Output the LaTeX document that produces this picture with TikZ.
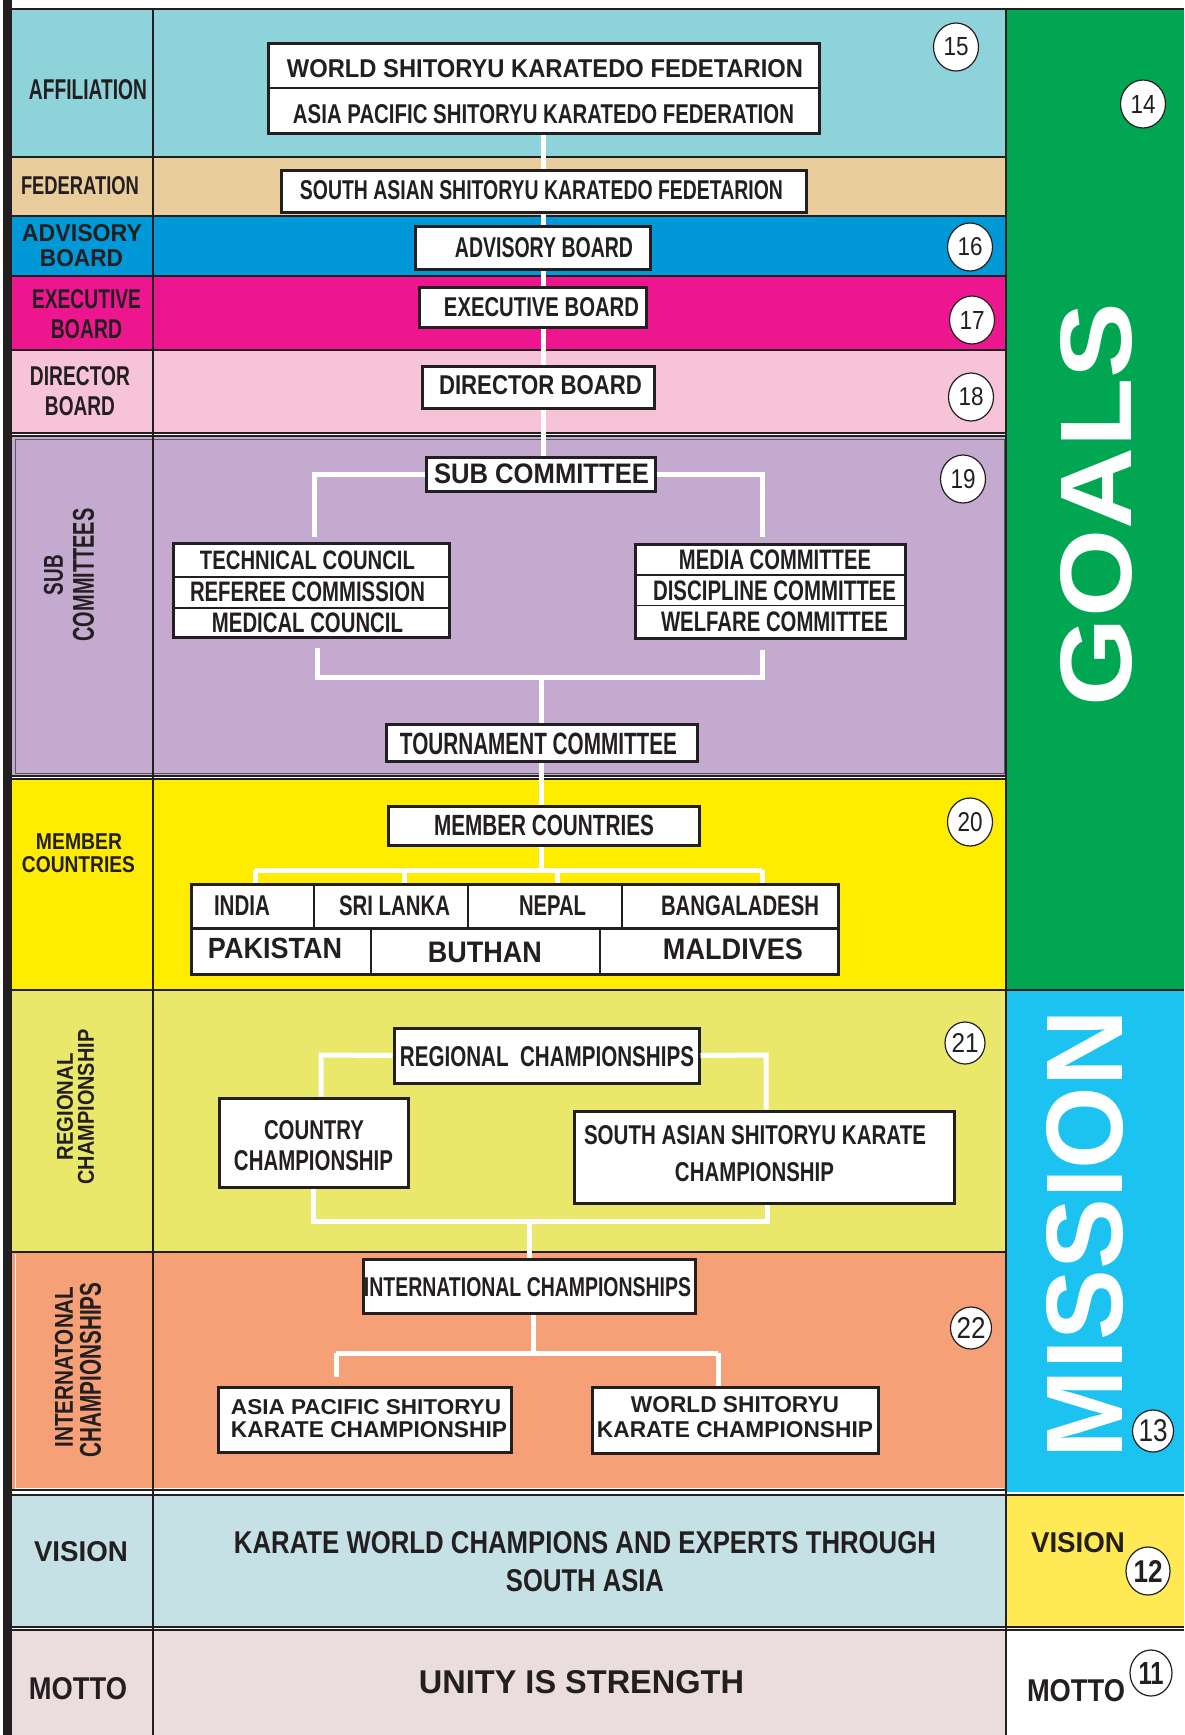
\documentclass[tikz,border=0pt]{standalone}
\usepackage{fontspec}
\setmainfont{Liberation Sans}
\newfontfamily\cnd[FakeStretch=0.8]{Liberation Sans}
\usepackage{graphicx}
\usetikzlibrary{shapes.geometric,calc}
\definecolor{dark}{HTML}{231F20}
\definecolor{caffil}{HTML}{8ED2DA}
\definecolor{cfed}{HTML}{E9CD9D}
\definecolor{cadv}{HTML}{0098D7}
\definecolor{cexe}{HTML}{ED168F}
\definecolor{cdir}{HTML}{F7C3D8}
\definecolor{csub}{HTML}{C5AACF}
\definecolor{cmem}{HTML}{FFED00}
\definecolor{creg}{HTML}{E9E86B}
\definecolor{cintl}{HTML}{F5A077}
\definecolor{cgreen}{HTML}{00A651}
\definecolor{cmission}{HTML}{1CC3F1}
\definecolor{cvisr}{HTML}{FFE955}
\definecolor{cvis}{HTML}{C5E1E6}
\definecolor{cmotto}{HTML}{EBDCDD}
\newcommand{\txc}[3]{\resizebox{#1pt}{#2pt}{\cnd\bfseries #3}}
\newcommand{\txw}[3]{\resizebox{#1pt}{#2pt}{\bfseries #3}}
\newcommand{\txr}[3]{\resizebox{#1pt}{#2pt}{#3}}
\begin{document}
\begin{tikzpicture}[x=1pt,y=-1pt,
  lab/.style={inner sep=0pt, text=dark},
  wlab/.style={inner sep=0pt, text=white},
  box/.style={draw=dark, line width=3, fill=white, inner sep=0pt},
  conn/.style={draw=white, line width=5},
  rowline/.style={draw=dark, line width=1.5},
  thin/.style={draw=dark, line width=1.5},
  numc/.style={ellipse, draw=dark, line width=1.2, fill=white, inner sep=0pt, minimum width=45, minimum height=48, text=dark}]
\useasboundingbox (0,0) rectangle (1184,1735);
\fill[white] (0,0) rectangle (1184,1735);
% row fills
\fill[caffil] (12,10) rectangle (1006,157);
\fill[cfed] (12,157) rectangle (1006,216);
\fill[cadv] (12,216) rectangle (1006,276);
\fill[cexe] (12,276) rectangle (1006,350);
\fill[cdir] (12,350) rectangle (1006,433);
\fill[csub] (12,436) rectangle (1006,776);
\fill[cmem] (12,779) rectangle (1006,990);
\fill[creg] (12,990) rectangle (1006,1252);
\fill[cintl] (12,1252) rectangle (1006,1490);
\fill[cvis] (12,1495) rectangle (1006,1627);
\fill[cmotto] (12,1630) rectangle (1006,1735);
% right column
\fill[cgreen] (1006,10) rectangle (1184,990);
\fill[cmission] (1006,990) rectangle (1184,1492);
\fill[cvisr] (1006,1495) rectangle (1184,1627);
% lines
\draw[dark, line width=2] (3,9) -- (1184,9);
\foreach \yy in {157,216,276,350,433,436,776,779,990,1252,1490,1495,1627,1630}
  \draw[rowline] (12,\yy) -- (1006,\yy);
\draw[rowline] (1006,990) -- (1184,990);
\draw[rowline] (1006,1495) -- (1184,1495);
\draw[rowline] (1006,1627) -- (1184,1627);
\draw[rowline] (1006,1630) -- (1184,1630);
\draw[gray!60!dark, line width=0.8] (15,439) rectangle (1004,773);
\draw[white, line width=1] (15,1254) -- (15,1488) -- (1004,1488);
\draw[rowline] (153,9) -- (153,1735);
\draw[dark, line width=2] (1006,9) -- (1006,1735);
\fill[dark] (2.5,0) rectangle (12,1735);

% boxes
\node[box, minimum width=551, minimum height=90] (wskf) at (543.5,88) {};
\node[box, minimum width=522, minimum height=39] (saskf) at (544,191.5) {};
\node[box, minimum width=232, minimum height=40] (advb) at (533,248) {};
\node[box, minimum width=224, minimum height=37] (exeb) at (533,307.5) {};
\node[box, minimum width=229, minimum height=39] (dirb) at (538.5,387.5) {};
\node[box, minimum width=229, minimum height=34] (subc) at (540.5,474) {};
\node[box, minimum width=276, minimum height=94] (leftblk) at (311,590) {};
\node[box, minimum width=270, minimum height=94] (rightblk) at (770,591.5) {};
\node[box, minimum width=311, minimum height=37] (tourn) at (541.5,742.5) {};
\node[box, minimum width=311, minimum height=39.5] (memb) at (543.5,825.75) {};
\node[box, minimum width=647, minimum height=90.5] (table) at (514.5,929.25) {};
\node[box, minimum width=305, minimum height=55] (regc) at (546.5,1055.5) {};
\node[box, minimum width=189, minimum height=89] (ctry) at (313.5,1142.5) {};
\node[box, minimum width=380, minimum height=92] (sasc) at (764,1157) {};
\node[box, minimum width=332, minimum height=54] (intc) at (529,1286) {};
\node[box, minimum width=293, minimum height=65] (apc) at (364.5,1419.5) {};
\node[box, minimum width=286, minimum height=66] (wsc) at (735,1420) {};

% connector end points
\coordinate (sl) at (314,537);
\coordinate (sr) at (762,537);
\coordinate (bl) at (317,648);
\coordinate (br) at (762,650);
\coordinate (bm) at (541,677);
\coordinate (mh) at (541,870);
\coordinate (m1) at (255,870);
\coordinate (m2) at (404,870);
\coordinate (m3) at (557,870);
\coordinate (m4) at (762,870);
\coordinate (rl) at (321,1055);
\coordinate (rr) at (766,1055);
\coordinate (rbl) at (313,1221);
\coordinate (rbr) at (767,1221);
\coordinate (rbm) at (529,1221);
\coordinate (ih) at (533,1353);
\coordinate (il) at (336,1353);
\coordinate (ir) at (718,1353);
\coordinate (ild) at (336,1377);

\draw[conn] (wskf.south) -- (wskf.south |- subc.north);
\draw[conn] (subc.west) -| (sl);
\draw[conn] (subc.east) -| (sr);
\draw[conn] (bl) |- (bm) -| (br);
\draw[conn] (bm) -- (bm |- tourn.north);
\draw[conn] (tourn.south) -- (tourn.south |- memb.north);
\draw[conn] (memb.south -| mh) -- (mh);
\draw[conn] (m1) -- (m4);
\draw[conn] (m1) -- (m1 |- table.north);
\draw[conn] (m2) -- (m2 |- table.north);
\draw[conn] (m3) -- (m3 |- table.north);
\draw[conn] (m4) -- (m4 |- table.north);
\draw[conn] (regc.west) -- (rl) -- (rl |- ctry.north);
\draw[conn] (regc.east) -- (rr) -- (rr |- sasc.north);
\draw[conn] (rbl |- ctry.south) -- (rbl) -- (rbr) -- (rbr |- sasc.south);
\draw[conn] (rbm) -- (rbm |- intc.north);
\draw[conn] (intc.south -| ih) -- (ih);
\draw[conn] (il) -- (ir);
\draw[conn] (il) -- (ild);
\draw[conn] (ir) -- (ir |- wsc.north);

% redraw boxes over the main vertical connector
\foreach \n in {saskf,advb,exeb,dirb}{
  \draw[draw=dark, line width=3, fill=white] (\n.north west) rectangle (\n.south east);
}

% box inner dividers
\draw[thin] (wskf.west |- 0,88) -- (wskf.east |- 0,88);
\draw[thin] (leftblk.west |- 0,577) -- (leftblk.east |- 0,577);
\draw[thin] (leftblk.west |- 0,608) -- (leftblk.east |- 0,608);
\draw[thin] (rightblk.west |- 0,575) -- (rightblk.east |- 0,575);
\draw[thin] (rightblk.west |- 0,605.5) -- (rightblk.east |- 0,605.5);
\draw[dark, line width=2.5] (table.west |- 0,928.6) -- (table.east |- 0,928.6);
\draw[dark, line width=2.5] (314,884) -- (314,928.6);
\draw[dark, line width=2.5] (468,884) -- (468,928.6);
\draw[dark, line width=2.5] (622,884) -- (622,928.6);
\draw[dark, line width=2.5] (371,928.6) -- (371,974.5);
\draw[dark, line width=2.5] (600,928.6) -- (600,974.5);

% left labels
\node[lab] (lAff) at (88,90) {\txc{118}{20}{AFFILIATION}};
\node[lab] (lFed) at (80,186) {\txc{118}{18}{FEDERATION}};
\node[lab] (lAdv1) at (82,233) {\txw{120}{17}{ADVISORY}};
\node[lab] (lAdv2) at (81.5,258) {\txw{83}{17}{BOARD}};
\node[lab] (lExe1) at (86.5,299) {\txc{109}{19}{EXECUTIVE}};
\node[lab] (lExe2) at (86.5,329) {\txc{71}{19}{BOARD}};
\node[lab] (lDir1) at (80,376) {\txc{100}{19}{DIRECTOR}};
\node[lab] (lDir2) at (80,406) {\txc{70}{19}{BOARD}};
\node[lab, rotate=90] (lSub1) at (53.5,575) {\txw{40}{19}{SUB}};
\node[lab, rotate=90] (lSub2) at (83.5,575) {\txw{133}{21}{COMMITTEES}};
\node[lab] (lMem1) at (79,842) {\txw{86}{15.8}{MEMBER}};
\node[lab] (lMem2) at (78.5,865) {\txw{113}{16}{COUNTRIES}};
\node[lab, rotate=90] (lReg1) at (65,1107) {\txw{107}{16}{REGIONAL}};
\node[lab, rotate=90] (lReg2) at (86,1107) {\txw{155}{16}{CHAMPIONSHIP}};
\node[lab, rotate=90] (lInt1) at (64,1367) {\txw{161}{18}{INTERNATONAL}};
\node[lab, rotate=90] (lInt2) at (90.5,1370) {\txw{175}{21}{CHAMPIONSHIPS}};
\node[lab] (lVis) at (81,1552) {\txc{94}{20}{VISION}};
\node[lab] (lMot) at (78,1689) {\txc{98}{22}{MOTTO}};

% middle texts
\node[lab] (tWskf) at (545,69) {\txc{516}{18}{WORLD SHITORYU KARATEDO FEDETARION}};
\node[lab] (tApskf) at (543.5,114) {\txc{501}{19}{ASIA PACIFIC SHITORYU KARATEDO FEDERATION}};
\node[lab] (tSaskf) at (541.5,190) {\txc{483}{19}{SOUTH ASIAN SHITORYU KARATEDO FEDETARION}};
\node[lab] (tAdv) at (544,248) {\txc{178}{20}{ADVISORY BOARD}};
\node[lab] (tExe) at (541.5,307) {\txc{195}{19}{EXECUTIVE BOARD}};
\node[lab] (tDir) at (540.5,385) {\txc{203}{19}{DIRECTOR BOARD}};
\node[lab] (tSub) at (541.5,474) {\txc{215}{19.7}{SUB COMMITTEE}};
\node[lab] (tTech) at (307.5,560.5) {\txc{215}{18.6}{TECHNICAL COUNCIL}};
\node[lab] (tRef) at (307.5,592) {\txc{235}{19.7}{REFEREE COMMISSION}};
\node[lab] (tMed) at (307.5,622.5) {\txc{191}{19.7}{MEDICAL COUNCIL}};
\node[lab] (tMedia) at (775,560) {\txc{192}{19.7}{MEDIA COMMITTEE}};
\node[lab] (tDisc) at (774.5,591) {\txc{243}{19.7}{DISCIPLINE COMMITTEE}};
\node[lab] (tWelf) at (774.5,622) {\txc{227}{19.7}{WELFARE COMMITTEE}};
\node[lab] (tTourn) at (538.5,743.5) {\txc{277}{21.5}{TOURNAMENT COMMITTEE}};
\node[lab] (tMemb) at (544,825) {\txc{220}{20.4}{MEMBER COUNTRIES}};
\node[lab] (tIndia) at (242,905.6) {\txc{56}{19.7}{INDIA}};
\node[lab] (tSri) at (394.5,905.6) {\txc{111}{19.7}{SRI LANKA}};
\node[lab] (tNepal) at (552.5,905.6) {\txc{67}{19.7}{NEPAL}};
\node[lab] (tBang) at (740,905.6) {\txc{158}{19.7}{BANGALADESH}};
\node[lab] (tPak) at (275,948) {\txw{134}{20.4}{PAKISTAN}};
\node[lab] (tBut) at (485,952) {\txw{114}{20.4}{BUTHAN}};
\node[lab] (tMal) at (733,949) {\txw{140}{20.8}{MALDIVES}};
\node[lab] (tRegc) at (547,1057) {\txc{294}{20}{REGIONAL\ \ CHAMPIONSHIPS}};
\node[lab] (tCtry1) at (314,1130) {\txc{100}{19}{COUNTRY}};
\node[lab] (tCtry2) at (313.5,1161) {\txc{159}{20}{CHAMPIONSHIP}};
\node[lab] (tSas1) at (755,1135) {\txc{342}{19}{SOUTH ASIAN SHITORYU KARATE}};
\node[lab] (tSas2) at (754.5,1172) {\txc{159}{19}{CHAMPIONSHIP}};
\node[lab] (tIntc) at (527.5,1287) {\txc{327}{19}{INTERNATIONAL CHAMPIONSHIPS}};
\node[lab] (tAp1) at (366,1407) {\txw{270}{15}{ASIA PACIFIC SHITORYU}};
\node[lab] (tAp2) at (369,1430) {\txw{276}{16}{KARATE CHAMPIONSHIP}};
\node[lab] (tWs1) at (735,1405) {\txw{208}{16}{WORLD SHITORYU}};
\node[lab] (tWs2) at (735,1430) {\txw{276}{16}{KARATE CHAMPIONSHIP}};
\node[lab] (tVis1) at (585,1543) {\txc{702}{22}{KARATE WORLD CHAMPIONS AND EXPERTS THROUGH}};
\node[lab] (tVis2) at (585,1581) {\txc{158}{22}{SOUTH ASIA}};
\node[lab] (tMotto) at (581.5,1682) {\txc{325}{23}{UNITY IS STRENGTH}};

% right column
\node[wlab, rotate=90] (tGoals) at (1096.5,504.5) {\txw{403}{71}{GOALS}};
\node[wlab, rotate=90] (tMission) at (1085,1234) {\txw{448}{76}{MISSION}};
\node[lab] (tVisR) at (1078,1543) {\txc{94}{20}{VISION}};
\node[lab] (tMotR) at (1076,1691) {\txc{98}{22}{MOTTO}};

% numbered circles
\node[numc] (c15) at (956,47) {\txr{25}{18}{15}};
\node[numc] (c14) at (1143,104) {\txr{25}{18}{14}};
\node[numc] (c16) at (970,247) {\txr{25}{18}{16}};
\node[numc] (c17) at (972,320) {\txr{25}{18}{17}};
\node[numc] (c18) at (971,397) {\txr{25}{18}{18}};
\node[numc] (c19) at (963,479) {\txr{25}{19}{19}};
\node[numc] (c20) at (970,822) {\txr{25}{19}{20}};
\node[numc, minimum width=40, minimum height=42] (c21) at (965,1043) {\txr{27}{19}{21}};
\node[numc, minimum width=40, minimum height=42] (c22) at (971,1328) {\txr{29}{21}{22}};
\node[numc, minimum width=39, minimum height=42] (c13) at (1153,1431) {\txr{29}{22}{13}};
\node[numc, minimum width=44, minimum height=48] (c12) at (1148,1571) {\txc{29}{22}{12}};
\node[numc, minimum width=42, minimum height=46] (c11) at (1151,1673) {\txc{25}{22}{11}};
\end{tikzpicture}
\end{document}
